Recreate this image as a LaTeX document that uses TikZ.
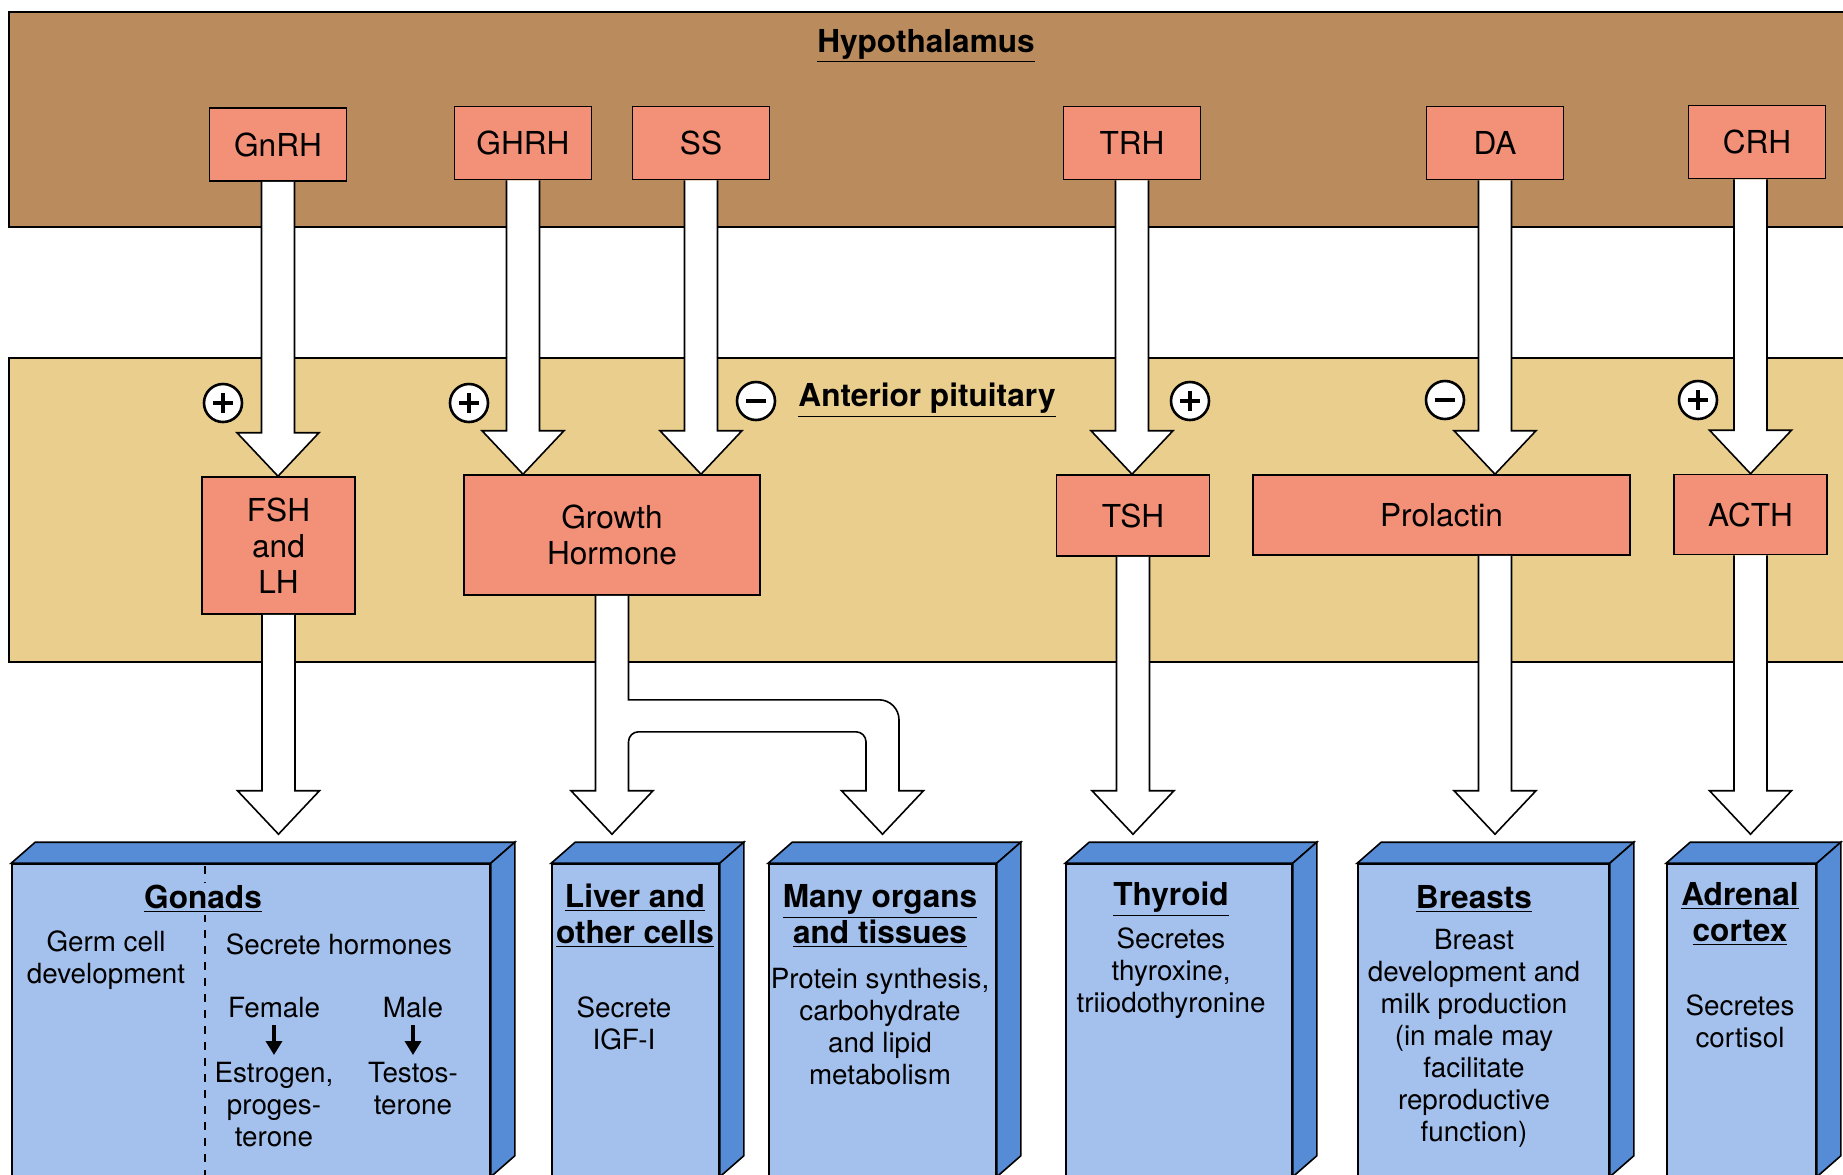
\documentclass[tikz,border=0pt]{standalone}
\usepackage{fontspec}
\setmainfont{TeX Gyre Heros}
\usetikzlibrary{calc,arrows.meta}

\definecolor{hypoband}{RGB}{186,140,93}
\definecolor{pitband}{RGB}{233,206,141}
\definecolor{salmon}{RGB}{242,144,120}
\definecolor{organfront}{RGB}{164,192,236}
\definecolor{organside}{RGB}{86,140,214}

\newcommand\lblfont{\fontsize{15.8}{18}\selectfont}
\newcommand\ttlfont{\bfseries\fontsize{15.8}{18}\selectfont}
\newcommand\bodyfont{\fontsize{13.9}{16}\selectfont}

% white block arrow, x from the source, tip on the target
\newcommand\blockarrow[2]{%
  \filldraw[blockarrow] let \p1=(#1), \p2=(#2) in
    (\x1-8.25pt,\y1) -- (\x1-8.25pt,\y2+21.75pt) -- (\x1-20.5pt,\y2+21.75pt)
    -- (\x1,\y2) -- (\x1+20.5pt,\y2+21.75pt) -- (\x1+8.25pt,\y2+21.75pt)
    -- (\x1+8.25pt,\y1);}

\tikzset{
  band/.style={draw=black, line width=1pt},
  hypo/.style={draw, line width=0.8pt, fill=salmon, minimum width=68.5pt,
    minimum height=36.5pt, inner sep=0pt, font=\lblfont},
  pit/.style={draw, line width=0.8pt, fill=salmon, inner sep=0pt,
    font=\lblfont, align=center},
  blockarrow/.style={draw=black, fill=white, line width=0.8pt},
  organ/.style={draw, line width=0.8pt, fill=organfront, inner sep=0pt,
    minimum height=156pt},
  organface/.style={draw=black, fill=organside, line width=0.8pt},
  signmark/.style={circle, draw, line width=1.3pt, fill=white,
    minimum size=19pt, inner sep=0pt},
  posmark/.style={signmark, path picture={
    \draw[line width=2pt] ([xshift=-5pt]path picture bounding box.center)
      -- ([xshift=5pt]path picture bounding box.center)
      ([yshift=-5pt]path picture bounding box.center)
      -- ([yshift=5pt]path picture bounding box.center);}},
  negmark/.style={signmark, path picture={
    \draw[line width=2.2pt] ([xshift=-5pt]path picture bounding box.center)
      -- ([xshift=5pt]path picture bounding box.center);}},
  bandtitle/.style={font=\ttlfont},
  ttl/.style={font=\ttlfont, align=center, fill=organfront, inner sep=1pt},
  txt/.style={font=\bodyfont, align=center},
  smallarrow/.style={-{Triangle[width=8pt,length=7pt]}, line width=1.8pt}
}

\begin{document}
\begin{tikzpicture}[x=0.5pt, y=-0.5pt]
  \clip (0,0) rectangle (1843,1174);
  \fill[white] (0,0) rectangle (1843,1174);

  % Hypothalamus
  \filldraw[band, fill=hypoband] (9,12) rectangle (1860,227);
  \node[bandtitle] (hypoT) at (926,46) {\underline{Hypothalamus}};
  \node[hypo] (GnRH) at (278,144.5) {GnRH};
  \node[hypo] (GHRH) at (523,143) {GHRH};
  \node[hypo] (SS) at (701,143) {SS};
  \node[hypo] (TRH) at (1132,143) {TRH};
  \node[hypo] (DA) at (1495,143) {DA};
  \node[hypo] (CRH) at (1757,142) {CRH};

  % Anterior pituitary
  \filldraw[band, fill=pitband] (9,358) rectangle (1860,662);
  \node[bandtitle] (pitT) at (927,400) {\underline{Anterior pituitary}};
  \node[pit, minimum width=76.5pt, minimum height=68.5pt] (FSH) at (278.5,545.5) {FSH\\and\\LH};
  \node[pit, minimum width=148pt, minimum height=60pt] (GH) at (612,535) {Growth\\Hormone};
  \node[pit, minimum width=76.5pt, minimum height=40.5pt] (TSH) at (1133,515.5) {TSH};
  \node[pit, minimum width=188.5pt, minimum height=40pt] (PRL) at (1441.5,515) {Prolactin};
  \node[pit, minimum width=76.5pt, minimum height=40pt] (ACTH) at (1750.5,514.5) {ACTH};

  \node[posmark] (sGn) at (223,403) {};
  \node[posmark] (sGH) at (469,403) {};
  \node[negmark] (sSS) at (756,401) {};
  \node[posmark] (sTR) at (1190,401) {};
  \node[negmark] (sDA) at (1445,400) {};
  \node[posmark] (sCR) at (1698,400) {};

  % Targets
  \node[organ, minimum width=239pt] (gonads) at (251,1020) {};
  \node[organ, minimum width=83.5pt] (liver) at (635.5,1020) {};
  \node[organ, minimum width=113.5pt] (organs) at (882.5,1020) {};
  \node[organ, minimum width=113pt] (thyroid) at (1179,1020) {};
  \node[organ, minimum width=125.5pt] (breasts) at (1483.5,1020) {};
  \node[organ, minimum width=74.5pt] (adrenal) at (1741.5,1020) {};
  \foreach \o in {gonads,liver,organs,thyroid,breasts,adrenal}{
    \filldraw[organface] (\o.north west) -- ++(24,-21)
      -- ($(\o.north east)+(24,-21)$) -- (\o.north east) -- cycle;
    \filldraw[organface] (\o.north east) -- ++(24,-21)
      -- ($(\o.south east)+(24,-21)$) -- (\o.south east) -- cycle;
  }

  % Arrows
  \blockarrow{GnRH.south}{FSH.north}
  \blockarrow{GHRH.south}{GH.north}
  \blockarrow{SS.south}{GH.north}
  \blockarrow{TRH.south}{TSH.north}
  \blockarrow{DA.south}{PRL.north}
  \blockarrow{CRH.south -| ACTH.north}{ACTH.north}
  \blockarrow{FSH.south}{[yshift=14.5pt]gonads.north}
  \blockarrow{TSH.south}{[yshift=14.5pt]thyroid.north}
  \blockarrow{PRL.south -| DA.south}{[yshift=14.5pt]breasts.north}
  \blockarrow{ACTH.south}{[yshift=14.5pt]adrenal.north}
  \filldraw[blockarrow] let \p1=(GH.south), \p2=([yshift=14.5pt]liver.north), \p3=(organs.north) in
    (\x1-8.25pt,\y1) -- (\x1-8.25pt,\y2+21.75pt) -- (\x1-20.5pt,\y2+21.75pt) -- (\x1,\y2)
    -- (\x1+20.5pt,\y2+21.75pt) -- (\x1+8.25pt,\y2+21.75pt)
    -- (\x1+8.25pt,\y1-73pt) arc[start angle=180,end angle=90,radius=5pt]
    -- (\x3-13.25pt,\y1-68pt) arc[start angle=90,end angle=0,radius=5pt]
    -- (\x3-8.25pt,\y2+21.75pt) -- (\x3-20.5pt,\y2+21.75pt) -- (\x3,\y2)
    -- (\x3+20.5pt,\y2+21.75pt) -- (\x3+8.25pt,\y2+21.75pt)
    -- (\x3+8.25pt,\y1-62pt) arc[start angle=0,end angle=90,radius=10pt]
    -- (\x1+8.25pt,\y1-52pt) -- (\x1+8.25pt,\y1);

  % Gonads
  \draw[line width=1pt, dash pattern=on 4pt off 4pt] (205,866) -- (205,1180);
  \node[ttl] (gonadsT) at (203,899) {\underline{Gonads}};
  \node[txt] (germ) at (106,960) {Germ cell\\development};
  \node[txt] (secr) at (339,944) {Secrete hormones};
  \node[txt] (female) at (274,1008) {Female};
  \node[txt] (male) at (413,1008) {Male};
  \node[txt, anchor=north] (estro) at (274,1055) {Estrogen,\\proges-\\terone};
  \node[txt, anchor=north] (testo) at (413,1055) {Testos-\\terone};
  \draw[smallarrow] (female) -- (estro);
  \draw[smallarrow] (male) -- (testo);

  % other targets
  \node[ttl] (liverT) at (635,916) {\underline{Liver and}\\\underline{other cells}};
  \node[txt] (liverB) at (624,1023) {Secrete\\IGF-I};
  \node[ttl] (organsT) at (880,916) {\underline{Many organs}\\\underline{and tissues}};
  \node[txt] (organsB) at (880,1027) {Protein synthesis,\\carbohydrate\\and lipid\\metabolism};
  \node[ttl] (thyroidT) at (1171,899) {\underline{Thyroid}};
  \node[txt] (thyroidB) at (1171,973) {Secretes\\thyroxine,\\triiodothyronine};
  \node[ttl] (breastsT) at (1474,899) {\underline{Breasts}};
  \node[txt] (breastsB) at (1474,1038) {Breast\\development and\\milk production\\(in male may\\facilitate\\reproductive\\function)};
  \node[ttl] (adrenalT) at (1740,914) {\underline{Adrenal}\\\underline{cortex}};
  \node[txt] (adrenalB) at (1740,1021) {Secretes\\cortisol};
\end{tikzpicture}
\end{document}
